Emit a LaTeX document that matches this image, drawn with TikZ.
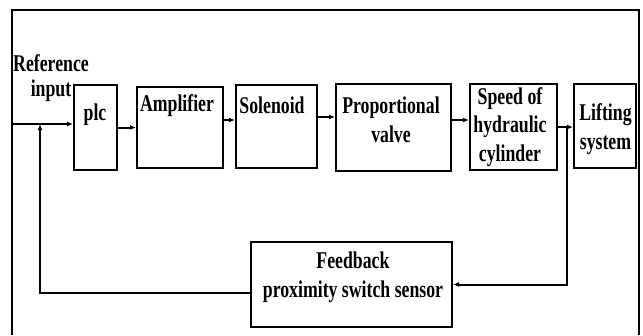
\documentclass[tikz,border=0pt]{standalone}
\usepackage{fontspec}
\setmainfont{Liberation Serif}
\newfontfamily\blkfont[FakeStretch=0.74]{Liberation Serif Bold}
\usetikzlibrary{arrows.meta}

\tikzset{
  blk/.style={draw, line width=2pt, inner sep=0pt},
  lbl/.style={font=\blkfont\fontsize{24}{28.8}\selectfont, align=center, inner sep=0pt},
  sig/.style={line width=2pt, -{Latex[length=6pt,width=5pt]}},
}

\begin{document}
\begin{tikzpicture}[x=1pt,y=-1pt]
  \useasboundingbox (0,0) rectangle (643,335);
  % outer frame
  \draw[line width=2pt] (12,335) -- (12,10) -- (639,10) -- (639,335);

  % blocks
  \node[blk, minimum width=43pt,  minimum height=85pt] (plc)   at (95.5,127.5) {};
  \node[blk, minimum width=86pt,  minimum height=81pt] (amp)   at (180,127.5) {};
  \node[blk, minimum width=81pt,  minimum height=83pt] (sol)   at (276.5,126.5) {};
  \node[blk, minimum width=115pt, minimum height=87pt] (valve) at (393.5,127.5) {};
  \node[blk, minimum width=87pt,  minimum height=86pt] (speed) at (513.5,127) {};
  \node[blk, minimum width=62pt,  minimum height=84pt] (lift)  at (605,126) {};
  \node[blk, minimum width=201pt, minimum height=85pt] (fb)    at (351.5,284.5) {};

  % labels
  \node[lbl] (reft)   at (51,78)    {Reference\\[-4pt]input};
  \node[lbl] (plct)   at (95,115)   {plc};
  \node[lbl] (ampt)   at (177,105.5){Amplifier};
  \node[lbl] (solt)   at (272,105)  {Solenoid};
  \node[lbl] (valvet) at (391,120)  {Proportional\\valve};
  \node[lbl] (speedt) at (510,127)  {Speed of\\hydraulic\\cylinder};
  \node[lbl] (liftt)  at (605.5,129){Lifting\\system};
  \node[lbl] (fbt)    at (353,277)  {Feedback\\proximity switch sensor};

  % forward path
  \coordinate (in) at (12,124);
  \draw[sig] (in) -- (in -| plc.west);
  \draw[sig] (plc.east) -- (amp.west);
  \draw[sig] ([yshift=7.5pt]amp.east) -- ([yshift=7.5pt]amp.east -| sol.west);
  \draw[sig] ([yshift=9.5pt]sol.east) -- ([yshift=9.5pt]sol.east -| valve.west);
  \draw[sig] ([yshift=7.5pt]valve.east) -- ([yshift=7.5pt]valve.east -| speed.west);
  \draw[sig] (speed.east) -- (speed.east -| lift.west);

  % feedback path
  \coordinate (tap) at ([xshift=9pt]speed.east);
  \draw[sig] (tap) |- (fb.east);
  \draw[sig] ([yshift=-8.5pt]fb.west) -| ([xshift=28pt]in);
\end{tikzpicture}
\end{document}
